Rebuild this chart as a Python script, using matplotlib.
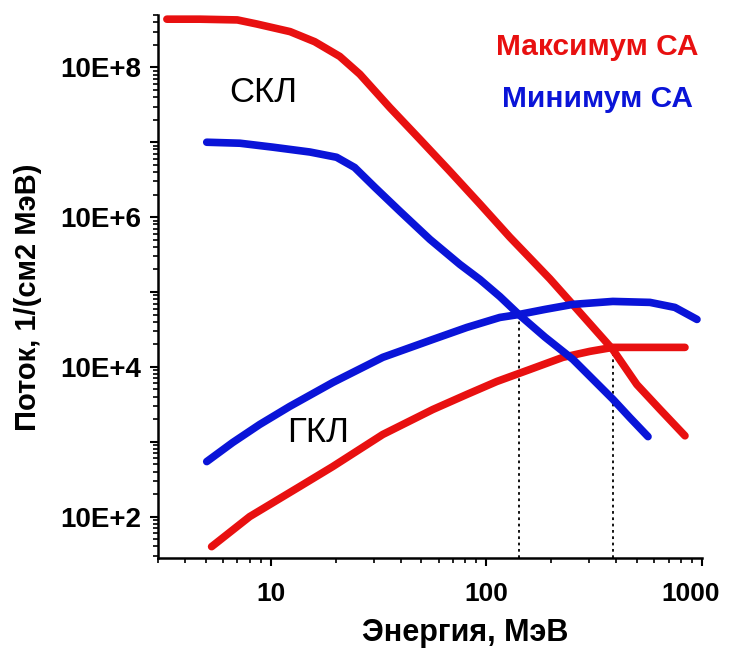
import numpy as np
import matplotlib
matplotlib.use('Agg')
import matplotlib.pyplot as plt
import matplotlib.transforms as mtransforms
from matplotlib.ticker import FixedLocator, LogLocator, NullFormatter

plt.rcParams['font.family'] = ['Liberation Sans', 'DejaVu Sans']

# Red, solar maximum - SCR (СКЛ)
max_scr_e = [3.3, 4.7, 7.0, 8.6, 12.3, 16.0, 20.9, 25.9, 35.7, 49.1, 67.7, 93.3, 128.5, 197, 263, 386, 499, 639, 834]
max_scr_f = [4.4e8, 4.4e8, 4.3e8, 3.8e8, 3.0e8, 2.2e8, 1.4e8, 8.1e7, 2.9e7, 1.1e7, 4.1e6, 1.5e6, 5.4e5,
             1.5e5, 5.9e4, 1.7e4, 5.8e3, 2.7e3, 1.2e3]

# Blue, solar minimum - SCR (СКЛ)
min_scr_e = [5.05, 7.2, 10.2, 15.2, 20.2, 24.5, 30.4, 39.7, 54.7, 75.3, 93.3, 115.5, 141.5, 186.9, 252, 386, 463, 562]
min_scr_f = [1.0e7, 9.7e6, 8.6e6, 7.4e6, 6.3e6, 4.6e6, 2.5e6, 1.2e6, 5.05e5, 2.34e5, 1.47e5, 8.7e4, 5.0e4,
             2.5e4, 1.26e4, 3.7e3, 2.1e3, 1.17e3]

# Blue, solar minimum - GCR (ГКЛ)
min_gcr_e = [5.05, 6.66, 8.89, 12.25, 19.4, 33.1, 56.4, 81.2, 115.5, 141.5, 186.9, 252, 386, 574, 749, 948]
min_gcr_f = [543, 975, 1.70e3, 2.96e3, 6.18e3, 1.34e4, 2.32e4, 3.36e4, 4.57e4, 5.0e4, 5.85e4, 6.83e4,
             7.48e4, 7.26e4, 6.22e4, 4.30e4]

# Red, solar maximum - GCR (ГКЛ)
max_gcr_e = [5.32, 7.99, 13.63, 19.4, 33.1, 56.4, 81.2, 111.9, 159.2, 226.5, 302, 386, 574, 834]
max_gcr_f = [39.7, 100, 252, 466, 1.25e3, 2.69e3, 4.28e3, 6.38e3, 9.23e3, 1.34e4, 1.61e4, 1.82e4, 1.82e4, 1.82e4]

# crossing points marked by dotted lines
cross_e = [141.5, 386]
cross_f = [5.0e4, 1.8e4]

y_ticks = [1e2, 1e3, 1e4, 1e5, 1e6, 1e7, 1e8]
y_labels = ['10E+2', '', '10E+4', '', '10E+6', '', '10E+8']
x_ticks = [10, 100, 1000]
x_labels = ['10', '100', '1000']

red = '#e81010'
blue = '#0a14d8'

fig = plt.figure(figsize=(7.3, 6.56), dpi=100)
ax = fig.add_axes([0.2164, 0.1494, 0.7452, 0.8277])

lw = 5.5
ax.plot(max_scr_e, max_scr_f, color=red, lw=lw, solid_capstyle='round')
ax.plot(max_gcr_e, max_gcr_f, color=red, lw=lw, solid_capstyle='round')
ax.plot(min_scr_e, min_scr_f, color=blue, lw=lw, solid_capstyle='round')
ax.plot(min_gcr_e, min_gcr_f, color=blue, lw=lw, solid_capstyle='round')

ax.set_xscale('log')
ax.set_yscale('log')
ax.set_xlim(3, 1000)
ax.set_ylim(28, 5e8)

for e, f in zip(cross_e, cross_f):
    ax.plot([e, e], [28, f], color='black', lw=1.3, ls=(0, (1.5, 2)), zorder=1)

for s in ['top', 'right']:
    ax.spines[s].set_visible(False)
for s in ['left', 'bottom']:
    ax.spines[s].set_linewidth(1.8)

ax.yaxis.set_major_locator(FixedLocator(y_ticks))
ax.set_yticklabels(y_labels)
ax.yaxis.set_minor_locator(LogLocator(base=10, subs=np.arange(2, 10), numticks=20))
ax.yaxis.set_minor_formatter(NullFormatter())
ax.xaxis.set_major_locator(FixedLocator(x_ticks))
ax.set_xticklabels(x_labels)
ax.xaxis.set_minor_locator(LogLocator(base=10, subs=np.arange(2, 10), numticks=20))
ax.xaxis.set_minor_formatter(NullFormatter())

ax.tick_params(which='major', direction='out', length=6, width=1.5)
ax.tick_params(axis='y', which='major', pad=6, labelsize=20)
ax.tick_params(axis='x', which='major', pad=11, labelsize=19)
ax.tick_params(which='minor', direction='out', length=3.5, width=1.2)
for lab in ax.get_xticklabels() + ax.get_yticklabels():
    lab.set_fontweight('bold')

# last x label sits slightly left so it stays inside the picture
last = ax.get_xticklabels()[-1]
last.set_transform(last.get_transform() + mtransforms.ScaledTranslation(-8 / 72, 0, fig.dpi_scale_trans))

fig.text(465 / 730, 1 - 633 / 656, 'Энергия, МэВ', ha='center', va='center',
         fontsize=22, fontweight='bold')
fig.text(28 / 730, 1 - 297 / 656, 'Поток, 1/(см2 МэВ)', ha='center', va='center',
         fontsize=21, fontweight='bold', rotation=90)

fig.text(597 / 730, 1 - 47 / 656, 'Максимум СА', ha='center', va='center',
         fontsize=21.5, fontweight='bold', color=red)
fig.text(597 / 730, 1 - 99 / 656, 'Минимум СА', ha='center', va='center',
         fontsize=21.5, fontweight='bold', color=blue)
fig.text(263 / 730, 1 - 92 / 656, 'СКЛ', ha='center', va='center', fontsize=25)
fig.text(318 / 730, 1 - 432 / 656, 'ГКЛ', ha='center', va='center', fontsize=25)

fig.savefig('out.png', dpi=100)
